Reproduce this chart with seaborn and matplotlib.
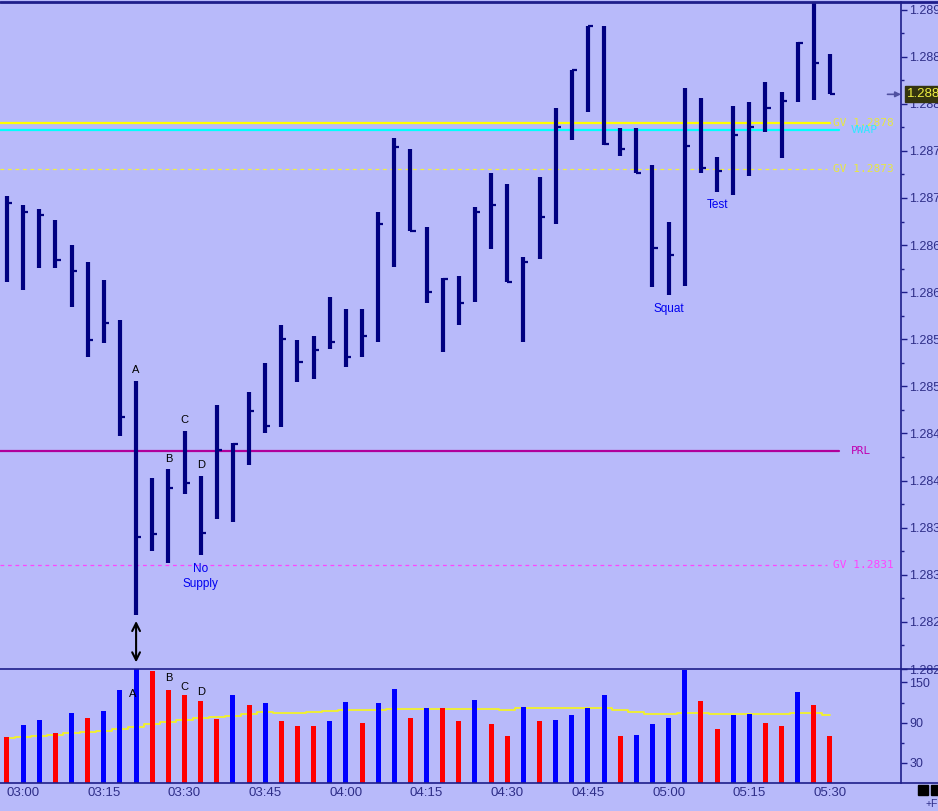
import numpy as np
import pandas as pd
import matplotlib
matplotlib.use("Agg")
import matplotlib.pyplot as plt
from matplotlib.lines import Line2D
from matplotlib.patches import Rectangle
import seaborn as sns

# ---------------- data ----------------
minutes = np.arange(177, 331, 3)          # 02:57 ... 05:30, 3-minute bars
highs = [1.28702, 1.28692, 1.28688, 1.28677, 1.28650, 1.28632, 1.28613, 1.28570,
         1.28506, 1.28403, 1.28412, 1.28453, 1.28405, 1.28480, 1.28440, 1.28494,
         1.28525, 1.28565, 1.28549, 1.28553, 1.28595, 1.28582, 1.28582, 1.28685,
         1.28764, 1.28752, 1.28669, 1.28615, 1.28617, 1.28690, 1.28727, 1.28715,
         1.28637, 1.28722, 1.28796, 1.28836, 1.28882, 1.28882, 1.28774, 1.28774,
         1.28735, 1.28675, 1.28817, 1.28806, 1.28744, 1.28798, 1.28802, 1.28823,
         1.28812, 1.28866, 1.28915, 1.28853]
lows = [1.28611, 1.28602, 1.28626, 1.28626, 1.28584, 1.28531, 1.28546, 1.28447,
        1.28257, 1.28325, 1.28313, 1.28386, 1.28321, 1.28359, 1.28356, 1.28417,
        1.28450, 1.28457, 1.28505, 1.28508, 1.28540, 1.28521, 1.28531, 1.28547,
        1.28627, 1.28665, 1.28589, 1.28537, 1.28565, 1.28590, 1.28646, 1.28611,
        1.28547, 1.28635, 1.28672, 1.28762, 1.28791, 1.28756, 1.28745, 1.28726,
        1.28605, 1.28597, 1.28607, 1.28727, 1.28706, 1.28703, 1.28723, 1.28770,
        1.28742, 1.28802, 1.28804, 1.28810]
closes = [1.28695, 1.28685, 1.28682, 1.28634, 1.28622, 1.28549, 1.28567, 1.28467,
          1.28340, 1.28343, 1.28392, 1.28397, 1.28344, 1.28432, 1.28439, 1.28474,
          1.28458, 1.28550, 1.28526, 1.28539, 1.28547, 1.28531, 1.28553, 1.28672,
          1.28754, 1.28665, 1.28600, 1.28614, 1.28589, 1.28685, 1.28692, 1.28611,
          1.28632, 1.28680, 1.28775, 1.28836, 1.28882, 1.28757, 1.28752, 1.28727,
          1.28647, 1.28639, 1.28755, 1.28732, 1.28729, 1.28767, 1.28775, 1.28795,
          1.28803, 1.28865, 1.28843, 1.28810]
volumes = [69, 86.5, 94.5, 74.5, 104, 97.5, 108, 139, 171, 167.5, 139, 131, 123,
           96, 131, 116.5, 119, 93, 85.5, 85.5, 93, 121.5, 89.5, 119, 140.5, 97.5,
           112.5, 112.5, 93, 124.5, 88, 70.5, 114, 93, 94.5, 101.5, 112.5, 131,
           70.5, 72, 88, 97.5, 168.5, 123, 80, 101.5, 103, 89.5, 85.5, 135, 116.5,
           70.5]
vol_dir = ["down", "up", "up", "down", "up", "down", "up", "up", "up", "down",
           "down", "down", "down", "down", "up", "down", "up", "down", "down",
           "down", "up", "up", "down", "up", "up", "down", "up", "down", "down",
           "up", "down", "down", "up", "down", "up", "up", "up", "up", "down",
           "up", "up", "up", "up", "down", "down", "up", "up", "down", "down",
           "up", "down", "down"]
vol_avg = [66.5, 68.5, 69.5, 71.5, 74.5, 76, 78, 81, 84, 88, 91, 94, 97, 98.5,
           100.5, 103, 105.5, 105, 105, 106.5, 107.5, 109.5, 109, 108.5, 110, 110,
           110, 110, 110, 110.5, 110.5, 109.5, 111.5, 111.5, 111.5, 111.5, 111.5,
           111.5, 109, 105.5, 103.5, 102.5, 104, 105, 103.5, 102.5, 102.5, 102.5,
           102.5, 104, 104, 102]
level_names = ["GV 1.2878", "VWAP", "GV 1.2873", "PRL", "GV 1.2831"]
level_values = [1.28780, 1.28772, 1.28731, 1.28431, 1.28310]
last_price = 1.2881
time_ticks = [180, 195, 210, 225, 240, 255, 270, 285, 300, 315, 330]
time_labels = ["03:00", "03:15", "03:30", "03:45", "04:00", "04:15", "04:30",
               "04:45", "05:00", "05:15", "05:30"]

# ---------------- style ----------------
sns.set_theme(style="white")
plt.rcParams["font.family"] = ["Liberation Sans", "DejaVu Sans"]
BG = "#B8BAFA"
NAVY = "#000080"
AX = "#1E1E8A"
TXT = "#2E2E88"

W, H = 938, 811
fig = plt.figure(figsize=(W / 100, H / 100), dpi=100, facecolor=BG)

def fx(px):
    return px / W

def fy(py):
    return 1 - py / H

x_left, x_right = 175.7, 343.2
ax_p = fig.add_axes([0, fy(669), fx(901), (669 - 2) / H], facecolor=BG)
ax_v = fig.add_axes([0, fy(783), fx(901), (783 - 669) / H], facecolor=BG, sharex=ax_p)

df = pd.DataFrame({"minute": minutes, "high": highs, "low": lows, "close": closes,
                   "volume": volumes, "dir": vol_dir, "avg": vol_avg})

# ---------------- price panel ----------------
ax_p.set_xlim(x_left, x_right)
ax_p.set_ylim(1.28200, 1.28908)

styles = {"GV 1.2878": dict(color="#FFFF00", ls="-", lw=1.6, end=330.0, tx=330.5, tc="#E8E840"),
          "VWAP": dict(color="#00FFFF", ls="-", lw=1.6, end=331.6, tx=333.8, tc="#30E8FF"),
          "GV 1.2873": dict(color="#F0F040", ls=(0, (3, 3)), lw=0.9, end=329.5, tx=330.5, tc="#E8E840"),
          "PRL": dict(color="#B0009A", ls="-", lw=1.6, end=331.6, tx=333.8, tc="#C000B0"),
          "GV 1.2831": dict(color="#FF44FF", ls=(0, (3, 3)), lw=0.9, end=329.5, tx=330.5, tc="#FF44FF")}
for name, val in zip(level_names, level_values):
    s = styles[name]
    ax_p.plot([x_left, s["end"]], [val, val], color=s["color"], ls=s["ls"], lw=s["lw"], zorder=1)
    ax_p.text(s["tx"], val, name, color=s["tc"], fontsize=8, va="center", ha="left",
              family=["DejaVu Sans Mono"], zorder=5)

ax_p.vlines(df["minute"], df["low"], df["high"], color=NAVY, lw=3.0, zorder=3)
ax_p.hlines(df["close"], df["minute"], df["minute"] + 0.95, color=NAVY, lw=1.6, zorder=3)

# annotations
def lab(i, text, dy, color="black", size=8):
    ax_p.annotate(text, (minutes[i], highs[i]), xytext=(0, dy), textcoords="offset points",
                  ha="center", va="bottom", color=color, fontsize=size)

lab(8, "A", 4)
lab(10, "B", 4)
lab(11, "C", 4)
lab(12, "D", 4)
ax_p.annotate("No\nSupply", (minutes[12], lows[12]), xytext=(0, -6), textcoords="offset points",
              ha="center", va="top", color="#0000F0", fontsize=8.5, linespacing=1.25)
ax_p.annotate("Squat", (minutes[41], lows[41]), xytext=(0, -6), textcoords="offset points",
              ha="center", va="top", color="#0000F0", fontsize=8.5)
ax_p.annotate("Test", (minutes[44], lows[44]), xytext=(0, -5), textcoords="offset points",
              ha="center", va="top", color="#0000F0", fontsize=8.5)
ax_p.annotate("", xy=(minutes[8], 1.28207), xytext=(minutes[8], 1.28251),
              arrowprops=dict(arrowstyle="<->", color="black", lw=1.5,
                              mutation_scale=14, shrinkA=0, shrinkB=0))

# axis
ax_p.yaxis.tick_right()
ax_p.set_yticks(np.arange(1.2820, 1.28905, 0.0005))
ax_p.set_yticks(np.arange(1.28225, 1.2890, 0.0005), minor=True)
ax_p.set_yticklabels([f"{v:.4f}" for v in np.arange(1.2820, 1.28905, 0.0005)])
ax_p.tick_params(axis="y", which="major", right=True, length=4, width=1, color=AX,
                 labelcolor=TXT, labelsize=9, pad=2)
ax_p.tick_params(axis="y", which="minor", right=True, length=2.5, width=1, color=AX)
ax_p.tick_params(axis="x", bottom=False, labelbottom=False)
for sp in ["left", "bottom"]:
    ax_p.spines[sp].set_visible(False)
ax_p.spines["right"].set_color(AX)
ax_p.spines["right"].set_linewidth(1.2)
ax_p.spines["top"].set_visible(False)

# current price marker
ax_p.annotate("", xy=(1.0, last_price), xytext=(0.985, last_price),
              xycoords=("axes fraction", "data"),
              arrowprops=dict(arrowstyle="-|>", color="#5050A0", lw=1.2, mutation_scale=8,
                              shrinkA=0, shrinkB=0))
ax_p.annotate(f"{last_price:.4f}", xy=(1.0, last_price), xycoords=("axes fraction", "data"),
              xytext=(4, 0), textcoords="offset points", ha="left", va="center",
              color="#F0F040", fontsize=9.5, zorder=10, annotation_clip=False,
              bbox=dict(boxstyle="square,pad=0.15", fc="#35350F", ec="#35350F"))

# ---------------- volume panel ----------------
sns.barplot(data=df, x="minute", y="volume", hue="dir", native_scale=True, dodge=False,
            palette={"up": "#0000FF", "down": "#FF0000"}, width=0.31, legend=False,
            ax=ax_v, zorder=3, linewidth=0, saturation=1)
sns.lineplot(data=df, x="minute", y="avg", color="#F2F22A", lw=1.3, drawstyle="steps-mid",
             ax=ax_v, zorder=2)
ax_v.set_xlim(x_left, x_right)
ax_v.set_ylim(0, 170)
ax_v.set_xlabel("")
ax_v.set_ylabel("")
ax_v.yaxis.tick_right()
ax_v.set_yticks([30, 90, 150])
ax_v.set_yticks([60, 120], minor=True)
ax_v.tick_params(axis="y", which="major", right=True, length=4, width=1, color=AX,
                 labelcolor=TXT, labelsize=9, pad=2)
ax_v.tick_params(axis="y", which="minor", right=True, length=2.5, width=1, color=AX)
ax_v.set_xticks(time_ticks)
ax_v.set_xticklabels(time_labels)
ax_v.tick_params(axis="x", bottom=False, length=0, labelcolor=TXT, labelsize=9.5, pad=3)
for sp in ["left", "bottom", "top"]:
    ax_v.spines[sp].set_visible(False)
ax_v.spines["right"].set_color(AX)
ax_v.spines["right"].set_linewidth(1.2)

for t, yv, lx in [("A", 133, minutes[8] - 0.6), ("B", 157, minutes[10]),
                  ("C", 143, minutes[11]), ("D", 136, minutes[12])]:
    ax_v.text(lx, yv, t, ha="center", va="center", fontsize=8, color="black", zorder=5)

# full-width frame lines
for py, lw in [(1.5, 2.0), (669, 1.2), (783, 1.2)]:
    fig.add_artist(Line2D([0, 1], [fy(py), fy(py)], color=AX, lw=lw, transform=fig.transFigure))

# bottom right decorations
fig.add_artist(Rectangle((fx(918), fy(795)), fx(10), 10 / H, transform=fig.transFigure,
                         color="black"))
fig.add_artist(Rectangle((fx(931), fy(795)), fx(10), 10 / H, transform=fig.transFigure,
                         color="black"))
fig.text(fx(926), fy(804), "+F", fontsize=7.5, color=TXT, va="center", ha="left")

fig.savefig("out.png", dpi=100, facecolor=BG)
